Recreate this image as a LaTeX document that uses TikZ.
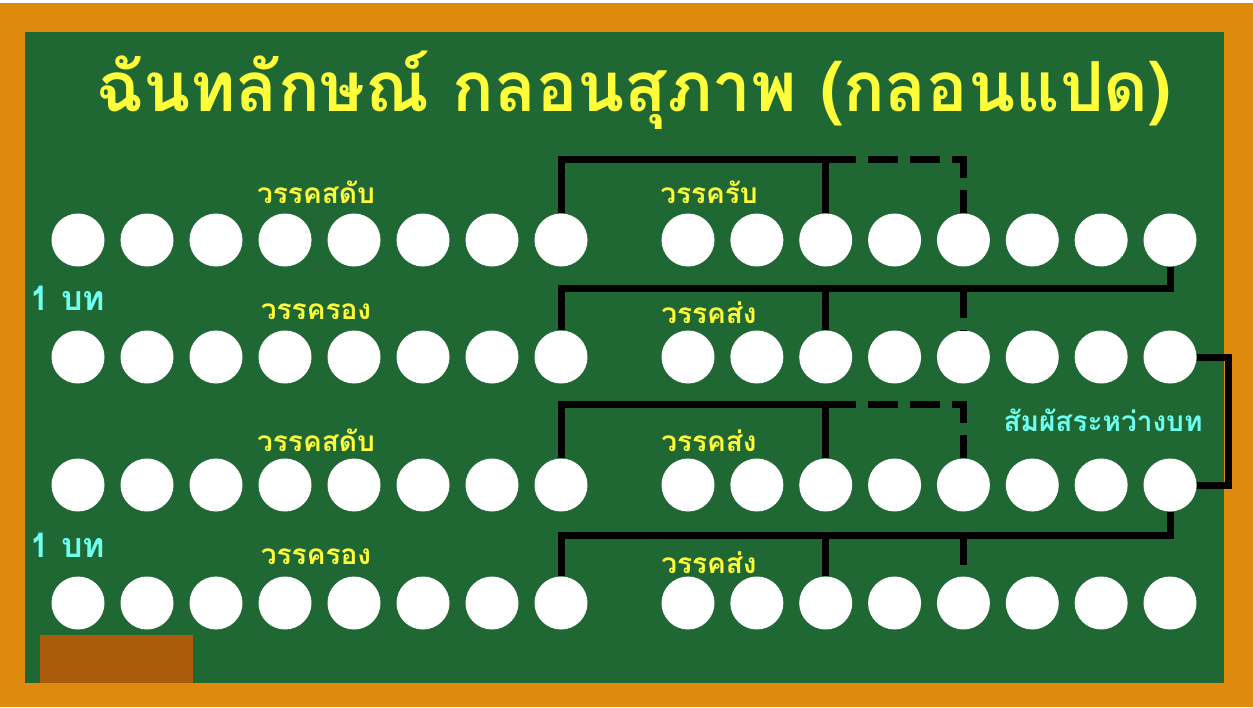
\documentclass[tikz,border=0pt]{standalone}
\usepackage{fontspec}
\newfontfamily\thai[Script=Thai]{Loma}
\definecolor{board}{RGB}{31,104,52}
\definecolor{frame}{RGB}{222,138,12}
\definecolor{eraser}{RGB}{170,92,12}
\definecolor{ttl}{RGB}{255,255,60}
\definecolor{cyn}{RGB}{110,255,240}
\tikzset{
  dot/.style={circle,fill=white,minimum size=53pt,inner sep=0pt},
  conn/.style={line width=7pt,draw=black},
  dconn/.style={conn,dash pattern=on 30pt off 12pt},
  lbl/.style={text=ttl,font=\thai\bfseries\fontsize{28}{30}\selectfont,inner sep=0pt},
  bt/.style={text=cyn,font=\thai\bfseries\fontsize{34}{36}\selectfont,inner sep=0pt},
}
\begin{document}
\begin{tikzpicture}[x=1pt,y=-1pt]
\useasboundingbox (0,0) rectangle (1253,707);
\fill[white] (0,0) rectangle (1253,707);
\fill[frame] (0,3) rectangle (1253,707);
\fill[board] (25,32) rectangle (1224,683);
\fill[eraser] (40,635) rectangle (193,683);
\node[text=ttl,font=\thai\bfseries\fontsize{69}{72}\selectfont,inner sep=0pt] (title) at (634,90) {ฉันทลักษณ์ กลอนสุภาพ (กลอนแปด)};
\foreach \r/\yy in {1/240,2/357,3/485,4/603}{
  \foreach \c in {1,...,8}{
    \node[dot] (r\r c\c) at ({78+69*(\c-1)},\yy) {};
  }
  \foreach \c in {9,...,16}{
    \node[dot] (r\r c\c) at ({688+68.857*(\c-9)},\yy) {};
  }
}
\node[lbl] (l1a) at (316,192) {วรรคสดับ};
\node[lbl] (l2a) at (316,312) {วรรครอง};
\node[lbl] (l3a) at (316,440) {วรรคสดับ};
\node[lbl] (l4a) at (316,557) {วรรครอง};
\node[lbl] (l1b) at (709,192) {วรรครับ};
\node[lbl] (l2b) at (709,313) {วรรคส่ง};
\node[lbl] (l3b) at (709,441) {วรรคส่ง};
\node[lbl] (l4b) at (709,563) {วรรคส่ง};
\node[bt] (b1) at (68,298) {1 บท};
\node[bt] (b2) at (68,545) {1 บท};
\node[bt,font=\thai\bfseries\fontsize{28}{30}\selectfont] (inter) at (1103,420) {สัมผัสระหว่างบท};
% connectors
\draw[conn] (r1c8.north) -- ++(0,-54) -| (r1c11.north);
\draw[dconn] (r1c11.north) ++(0,-54) -| (r1c13.north);
\draw[conn] (r1c16.south) -- ++(0,22) -| (r2c8.north);
\draw[conn] (r1c16.south) ++(0,22) -| (r2c11.north);
\draw[dconn] (r1c16.south) ++(0,22) ++(-206,0) -| (r2c13.north);
\draw[conn] (r2c16.east) -- ++(32,0) |- (r3c16.east);
\draw[conn] (r3c8.north) -- ++(0,-54) -| (r3c11.north);
\draw[dconn] (r3c11.north) ++(0,-54) -| (r3c13.north);
\draw[conn] (r3c16.south) -- ++(0,24) -| (r4c8.north);
\draw[conn] (r3c16.south) ++(0,24) -| (r4c11.north);
\draw[dconn] (r3c16.south) ++(0,24) ++(-206,0) -| (r4c13.north);
\end{tikzpicture}
\end{document}
